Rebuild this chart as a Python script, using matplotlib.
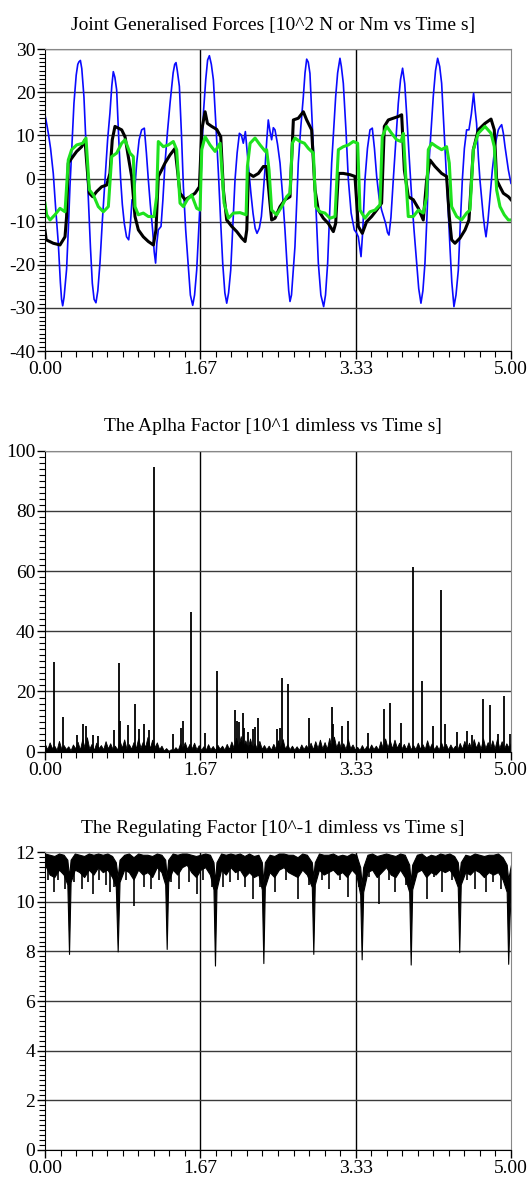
import numpy as np
import matplotlib
matplotlib.use('Agg')
import matplotlib.pyplot as plt
from matplotlib.ticker import MultipleLocator

plt.rcParams['font.family'] = ['Liberation Serif', 'DejaVu Serif']
plt.rcParams['axes.unicode_minus'] = False

# time axis labels
time_ticks = [0, 5 / 3, 10 / 3, 5]
time_labels = ['0.00', '1.67', '3.33', '5.00']

# joint generalised forces
blue_t = [0, 0.02, 0.036, 0.06, 0.089, 0.115, 0.143, 0.165, 0.178, 0.19,
          0.205, 0.22, 0.232, 0.25, 0.268, 0.29, 0.311, 0.335, 0.352, 0.365,
          0.38, 0.395, 0.418, 0.44, 0.465, 0.488, 0.508, 0.527, 0.547, 0.567,
          0.59, 0.615, 0.644, 0.672, 0.697, 0.717, 0.733, 0.75, 0.769, 0.79,
          0.812, 0.83, 0.851, 0.875, 0.898, 0.915, 0.934, 0.955, 0.984, 1.01,
          1.037, 1.066, 1.088, 1.109, 1.13, 1.155, 1.172, 1.187, 1.2, 1.216,
          1.245, 1.265, 1.288, 1.315, 1.342, 1.375, 1.392, 1.406, 1.42, 1.442,
          1.465, 1.485, 1.51, 1.538, 1.56, 1.585, 1.605, 1.628, 1.664, 1.682,
          1.7, 1.725, 1.745, 1.764, 1.785, 1.807, 1.835, 1.861, 1.885, 1.907,
          1.93, 1.95, 1.97, 1.993, 2.015, 2.039, 2.062, 2.086, 2.107, 2.128,
          2.15, 2.17, 2.19, 2.21, 2.232, 2.255, 2.275, 2.3, 2.322, 2.34,
          2.36, 2.38, 2.396, 2.414, 2.432, 2.45, 2.468, 2.495, 2.522, 2.55,
          2.575, 2.6, 2.615, 2.629, 2.645, 2.665, 2.682, 2.7, 2.718, 2.745,
          2.772, 2.79, 2.808, 2.825, 2.843, 2.865, 2.89, 2.91, 2.933, 2.96,
          2.99, 3.01, 3.033, 3.055, 3.076, 3.1, 3.119, 3.14, 3.165, 3.18,
          3.201, 3.23, 3.255, 3.285, 3.319, 3.34, 3.362, 3.378, 3.391, 3.41,
          3.433, 3.46, 3.487, 3.512, 3.535, 3.559, 3.585, 3.612, 3.635, 3.655,
          3.675, 3.691, 3.712, 3.737, 3.765, 3.791, 3.815, 3.837, 3.86, 3.88,
          3.905, 3.934, 3.96, 3.988, 4.01, 4.034, 4.055, 4.077, 4.1, 4.12,
          4.145, 4.166, 4.19, 4.213, 4.235, 4.256, 4.285, 4.309, 4.328, 4.345,
          4.365, 4.388, 4.41, 4.435, 4.455, 4.478, 4.5, 4.524, 4.549, 4.575,
          4.599, 4.615, 4.631, 4.65, 4.667, 4.685, 4.703, 4.718, 4.732, 4.752,
          4.775, 4.8, 4.828, 4.846, 4.864, 4.882, 4.9, 4.918, 4.936, 4.955,
          4.972, 5.0]
blue_v = [14.8, 12.5, 10.5, 7, 1.2, -7, -15, -24, -28, -29.5,
          -27.5, -24, -21, -12, -1.9, 8, 17.5, 24, 26.5, 27.1,
          27.4, 25.5, 19, 8, -4.2, -16, -24.3, -28, -28.8, -26,
          -19.6, -10, -0.3, 9, 15.2, 21.5, 24.8, 23.5, 20.6, 10,
          -0.3, -6, -10.4, -13.5, -14.2, -11, -4.9, -5, 3.6, 9,
          11.3, 11.7, 6, -0.3, -6, -11.9, -17, -19.6, -15, -11.9,
          -11.1, -5, 3.6, 11, 17.5, 24.5, 26.5, 26.9, 25, 21.4,
          10, -1.9, -12, -20.4, -27, -29.4, -27, -21.2, -5.7, 5,
          15.2, 23, 27.5, 28.5, 26.5, 22.9, 12, 1.2, -10, -19.6,
          -26.5, -28.9, -26.5, -21.2, -11, -0.3, 6, 10.5, 10.1, 8.2,
          10.9, 6, 1.2, -3.5, -8, -11.5, -12.7, -11.5, -8.8, -4,
          2, 9, 13.6, 11, 9, 11.8, 11.3, 8, 3.6, -4,
          -11.9, -21, -26, -28.5, -27, -21, -15.8, -6, 3.6, 12,
          19, 24.5, 27.7, 27, 24.4, 14, 2, -8, -19.6, -27,
          -29.7, -27, -19.6, -8, 3.6, 12, 19, 24.5, 27.9, 26,
          22.1, 11, -0.3, -8, -11.9, -12.5, -13.5, -16, -18.1, -12,
          -0.3, 7, 11.3, 11.7, 7, 0.5, -4.5, -7.3, -9, -10.4,
          -12.5, -13.1, -9, -0.3, 9, 17.5, 23, 25.6, 22, 15.2,
          6, -4.2, -12, -19.6, -25.5, -28.9, -26, -19.6, -8, 3.6,
          12, 19, 25, 27.9, 26, 22.1, 10, -0.3, -8, -15.8,
          -24, -29.7, -27, -21.2, -11, -0.3, 7, 11.3, 11.3, 15,
          19.8, 16, 12.8, 5, -0.3, -4.5, -8.8, -11.5, -13.5, -10,
          -4.2, 2, 7.4, 9.5, 11.3, 12, 12.5, 10.5, 7.4, 4.5,
          2, -1.1]

black_t = [0, 0.013, 0.089, 0.161, 0.215, 0.232, 0.25, 0.286, 0.34, 0.394,
           0.429, 0.454, 0.476, 0.512, 0.555, 0.608, 0.662, 0.697, 0.722, 0.751,
           0.787, 0.823, 0.859, 0.894, 0.93, 0.966, 1.002, 1.055, 1.109, 1.163,
           1.191, 1.216, 1.252, 1.288, 1.342, 1.395, 1.413, 1.449, 1.503, 1.556,
           1.61, 1.657, 1.682, 1.718, 1.743, 1.789, 1.843, 1.886, 1.914, 1.95,
           2.004, 2.058, 2.111, 2.147, 2.165, 2.183, 2.236, 2.29, 2.343, 2.378,
           2.414, 2.432, 2.468, 2.522, 2.575, 2.629, 2.665, 2.718, 2.772, 2.808,
           2.861, 2.897, 2.933, 2.987, 3.04, 3.094, 3.119, 3.148, 3.201, 3.273,
           3.326, 3.362, 3.405, 3.451, 3.505, 3.559, 3.612, 3.641, 3.684, 3.737,
           3.791, 3.827, 3.856, 3.898, 3.952, 4.006, 4.059, 4.095, 4.131, 4.185,
           4.256, 4.309, 4.338, 4.363, 4.399, 4.453, 4.507, 4.549, 4.596, 4.649,
           4.721, 4.786, 4.821, 4.846, 4.882, 4.918, 4.972, 5.0]
black_v = [-12, -14.2, -15, -15.4, -13.5, -8.8, 3.6, 4.7, 6.3, 7.4,
           9, 2, -3.4, -4.2, -3, -1.9, -1.5, 1.2, 9, 12.1,
           11.7, 11.3, 9.7, 5.1, 0.5, -8.8, -11.9, -13.5, -14.6, -15.4,
           -11.9, 0.5, 2, 3.6, 5.5, 7, 3.6, -3.4, -4.9, -4.2,
           -3.4, -1.9, 11.3, 15.5, 12.8, 12.1, 11.4, 9.7, -2.6, -9.6,
           -11.1, -12.3, -13.8, -14.6, -11.9, 1.2, 0.5, 1.2, 2.8, 2.8,
           -5.7, -9.6, -9.2, -6.5, -4.9, -4.2, 13.6, 14, 15.5, 13.6,
           11.3, -2.6, -7.3, -9.2, -10.4, -12.3, -10.4, 1.2, 1.2, 0.9,
           0.5, -11.1, -12.7, -10, -8.8, -7.3, -5.7, 12.1, 13.6, 14,
           14.4, 14.8, 2, -4.2, -4.9, -6.9, -9.6, -0.3, 4.3, 2.8,
           1.2, 0.5, -8.8, -14.2, -15, -13.8, -11.9, -9.6, 6.7, 11.3,
           12.8, 13.8, 11.3, -0.3, -1.9, -3.4, -4.2, -4.9]

green_t = [0, 0.018, 0.054, 0.107, 0.161, 0.215, 0.25, 0.286, 0.34, 0.404,
           0.44, 0.476, 0.519, 0.572, 0.626, 0.68, 0.716, 0.769, 0.823, 0.859,
           0.912, 0.948, 0.966, 1.002, 1.055, 1.109, 1.17, 1.198, 1.216, 1.27,
           1.324, 1.377, 1.413, 1.449, 1.485, 1.527, 1.574, 1.628, 1.664, 1.682,
           1.718, 1.771, 1.825, 1.879, 1.922, 1.968, 2.022, 2.093, 2.158, 2.172,
           2.201, 2.254, 2.308, 2.364, 2.378, 2.404, 2.432, 2.486, 2.54, 2.593,
           2.629, 2.654, 2.683, 2.736, 2.783, 2.826, 2.88, 2.905, 2.951, 3.004,
           3.058, 3.112, 3.148, 3.201, 3.255, 3.308, 3.355, 3.38, 3.433, 3.487,
           3.541, 3.594, 3.619, 3.666, 3.719, 3.773, 3.82, 3.845, 3.873, 3.898,
           3.952, 4.006, 4.059, 4.095, 4.113, 4.149, 4.202, 4.256, 4.309, 4.338,
           4.363, 4.417, 4.47, 4.524, 4.56, 4.596, 4.649, 4.721, 4.786, 4.821,
           4.846, 4.882, 4.928, 4.972, 5.0]
green_v = [-5.7, -8.4, -9.6, -8.4, -6.9, -7.7, 4.3, 6.7, 7.8, 8.2,
           9.4, -2.6, -3.8, -6.5, -7.7, -6.5, 5.1, 5.9, 8.2, 9,
           5.9, 5.1, -6.5, -8.4, -8, -8.8, -8.8, -4.2, 8.6, 7.4,
           7.8, 8.6, 6.7, -5.7, -6.5, -4.9, -3.8, -6.9, -7.3, 6.7,
           9.7, 7.8, 6.3, 8.2, -5.7, -9.2, -8, -7.9, -8.4, 2.8,
           8.2, 9.4, 7.8, 6.3, 6.7, 2, -7.3, -8.4, -6.5, -4.2,
           -3.4, 8.2, 9.4, 8.6, 8.2, 7, 5.9, -6.5, -7.7, -8,
           -9.2, -8.8, 6.7, 7.4, 7.8, 8.6, 8.2, -7.3, -9.2, -7.7,
           -7.3, -6.1, 9.7, 12.1, 10.5, 9, 8.6, 10.5, -0.3, -8.8,
           -8.8, -7.3, -8, -4.2, 6.7, 8.2, 7.4, 6.7, 7.4, 3.6,
           -6.5, -8.8, -9.6, -8, -7.3, 6.7, 10.5, 12.1, 10.5, 7.4,
           -2.6, -6.5, -8.4, -9.6, -9.6]

# alpha factor: background level (every 0.025 s) and the tall spikes
alpha_floor = [2.5, 0.8, 3.1, 1.2, 2.0, 0.6, 3.6, 1.0, 2.2, 0.9, 1.8, 0.5, 2.4, 1.1, 3.3, 0.7, 4.2, 1.4, 4.8, 1.0,
               2.6, 0.6, 3.0, 1.2, 2.2, 0.8, 3.5, 1.1, 2.8, 0.9, 2.0, 0.7, 3.8, 1.3, 4.1, 0.9, 2.5, 1.0, 3.2, 1.2,
               4.5, 1.3, 3.4, 1.6, 4.9, 1.1, 4.0, 1.5, 3.1, 0.9, 2.0, 0.4, 1.2, 0.3, 0.8, 0.5, 1.5, 0.6, 2.8, 1.0,
               3.2, 0.9, 2.6, 1.1, 3.0, 0.8, 2.2, 0.6, 1.8, 0.7, 2.5, 0.8, 1.9, 0.6, 2.3, 1.0, 2.0, 0.7, 2.6, 0.9,
               3.4, 1.2, 4.6, 1.6, 5.2, 1.4, 3.8, 1.2, 4.4, 1.3, 2.8, 0.9, 3.6, 1.0, 2.2, 0.8, 2.0, 0.7, 2.6, 0.9,
               3.8, 1.1, 4.2, 1.0, 2.5, 0.8, 2.0, 0.7, 1.8, 0.6, 2.4, 0.9, 2.2, 1.0, 3.0, 0.8, 3.5, 1.2, 4.0, 1.1,
               3.2, 1.0, 4.6, 1.3, 5.0, 1.5, 3.6, 1.1, 2.8, 0.9, 4.2, 1.2, 2.4, 0.8, 1.6, 0.6, 2.2, 0.7, 1.9, 0.8,
               2.4, 0.9, 2.0, 0.7, 3.5, 1.2, 4.4, 1.4, 3.8, 1.1, 4.0, 1.3, 3.0, 1.0, 2.6, 0.9, 3.1, 0.8, 2.2, 0.9,
               3.0, 1.0, 2.5, 0.9, 3.8, 1.2, 2.8, 0.8, 2.2, 0.7, 3.1, 1.1, 2.6, 0.8, 2.4, 0.9, 2.0, 0.7, 2.9, 1.0,
               3.6, 1.1, 3.0, 0.9, 4.2, 1.3, 3.4, 1.0, 4.5, 1.2, 3.2, 1.0, 3.8, 1.1, 4.3, 1.2, 3.5, 1.0, 2.8, 1.4,
               3.0]
spike_t = [0.097, 0.19, 0.34, 0.404, 0.44, 0.51, 0.565, 0.744, 0.797, 0.81,
           0.887, 0.966, 1.005, 1.059, 1.116, 1.17, 1.377, 1.459, 1.48, 1.563,
           1.72, 1.845, 2.042, 2.063, 2.085, 2.121, 2.139, 2.18, 2.235, 2.253,
           2.282, 2.486, 2.521, 2.539, 2.61, 2.836, 3.076, 3.094, 3.183, 3.255,
           3.469, 3.641, 3.702, 3.82, 3.945, 4.045, 4.16, 4.252, 4.292, 4.424,
           4.525, 4.578, 4.703, 4.775, 4.857, 4.925, 4.989]
spike_h = [29.7, 11.4, 5.5, 9.2, 8.5, 5.5, 5.3, 7.2, 29.6, 10.2,
           8.9, 15.7, 7.5, 9.2, 7.2, 94.5, 5.9, 7.8, 10.2, 46.4,
           6.1, 26.8, 13.8, 10.2, 10, 13, 8, 6.4, 7.4, 8.2,
           11.3, 7.5, 7.8, 24.4, 22.5, 11.1, 15, 9.2, 8.6, 10.2,
           6.3, 14.2, 16.1, 9.6, 61.5, 23.5, 8.5, 53.7, 9.1, 6.4,
           6.9, 5.5, 17.4, 15.5, 5.8, 18.5, 5.9]

# regulating factor: band edges, deep dips included
reg_t = [0.0, 0.05, 0.1, 0.15, 0.2, 0.24, 0.258, 0.275, 0.32, 0.37,
         0.42, 0.47, 0.52, 0.57, 0.62, 0.67, 0.72, 0.76, 0.78, 0.8,
         0.85, 0.9, 0.95, 1.0, 1.05, 1.1, 1.15, 1.2, 1.25, 1.29,
         1.306, 1.322, 1.37, 1.42, 1.47, 1.52, 1.57, 1.62, 1.67, 1.72,
         1.77, 1.808, 1.824, 1.84, 1.89, 1.94, 1.99, 2.04, 2.09, 2.14,
         2.19, 2.24, 2.29, 2.327, 2.343, 2.359, 2.41, 2.46, 2.51, 2.56,
         2.61, 2.66, 2.71, 2.76, 2.81, 2.863, 2.879, 2.895, 2.94, 2.99,
         3.04, 3.09, 3.14, 3.19, 3.24, 3.29, 3.34, 3.382, 3.398, 3.414,
         3.46, 3.51, 3.56, 3.61, 3.66, 3.71, 3.76, 3.81, 3.86, 3.908,
         3.924, 3.94, 3.99, 4.04, 4.09, 4.14, 4.19, 4.24, 4.29, 4.34,
         4.39, 4.429, 4.445, 4.461, 4.51, 4.56, 4.61, 4.66, 4.71, 4.76,
         4.81, 4.86, 4.91, 4.954, 4.97, 4.985, 5.0]
reg_low = [11.5, 11.1, 11.0, 11.3, 11.1, 10.7, 7.9, 10.8, 11.3, 11.2,
           11.0, 11.3, 11.1, 11.4, 11.2, 11.3, 11.0, 10.6, 8.0, 10.8,
           11.3, 11.2, 10.9, 11.3, 11.1, 11.2, 11.0, 11.4, 11.2, 10.7,
           8.1, 10.8, 11.3, 11.1, 11.4, 11.5, 11.2, 11.0, 11.3, 11.4,
           11.1, 10.5, 7.43, 10.5, 11.3, 11.1, 11.4, 11.2, 11.3, 11.0,
           11.2, 11.0, 11.1, 10.5, 7.53, 10.6, 11.2, 11.0, 11.3, 11.4,
           11.2, 11.1, 11.0, 11.3, 11.1, 10.6, 7.9, 10.7, 11.3, 11.1,
           11.2, 11.3, 11.1, 11.2, 11.0, 11.3, 11.1, 10.3, 7.68, 10.4,
           11.2, 11.3, 11.0, 11.2, 11.4, 11.1, 11.0, 11.3, 11.0, 10.4,
           7.47, 10.5, 11.2, 11.3, 11.0, 11.2, 11.1, 11.3, 11.2, 11.3,
           11.0, 10.6, 7.97, 10.7, 11.2, 11.1, 11.3, 11.2, 11.0, 11.2,
           11.1, 11.2, 10.9, 10.4, 7.5, 9.4, 10.4]
reg_high = [11.95, 11.9, 11.85, 11.95, 11.9, 11.7, 11.0, 11.7, 11.95, 11.9,
            11.85, 11.95, 11.9, 11.95, 11.9, 11.95, 11.85, 11.6, 11.0, 11.7,
            11.9, 11.95, 11.8, 11.95, 11.9, 11.9, 11.85, 11.95, 11.9, 11.7,
            11.0, 11.7, 11.95, 11.9, 11.95, 11.95, 11.9, 11.85, 11.9, 11.95,
            11.9, 11.6, 10.8, 11.6, 11.95, 11.9, 11.95, 11.9, 11.95, 11.85,
            11.95, 11.85, 11.9, 11.6, 10.8, 11.6, 11.9, 11.85, 11.95, 11.95,
            11.9, 11.9, 11.8, 11.95, 11.9, 11.6, 11.0, 11.6, 11.95, 11.9,
            11.9, 11.95, 11.85, 11.9, 11.85, 11.95, 11.9, 11.4, 10.7, 11.4,
            11.9, 11.95, 11.85, 11.9, 11.95, 11.9, 11.85, 11.95, 11.9, 11.5,
            10.8, 11.5, 11.9, 11.95, 11.8, 11.9, 11.85, 11.95, 11.9, 11.95,
            11.85, 11.6, 11.0, 11.6, 11.9, 11.85, 11.95, 11.9, 11.85, 11.9,
            11.9, 11.95, 11.8, 11.5, 10.9, 11.2, 11.5]
# thin downward flicks below the band
reg_spike_t = [0.035, 0.1, 0.14, 0.21, 0.31, 0.4, 0.46, 0.51, 0.58, 0.66,
               0.7, 0.745, 0.87, 0.955, 1.06, 1.14, 1.22, 1.35, 1.44, 1.55,
               1.635, 1.7, 1.79, 1.91, 1.99, 2.07, 2.15, 2.23, 2.31, 2.47,
               2.59, 2.71, 2.83, 2.97, 3.05, 3.17, 3.25, 3.37, 3.48, 3.58,
               3.69, 3.755, 3.87, 4.095, 4.17, 4.256, 4.37, 4.53, 4.61, 4.73,
               4.81, 4.89]
reg_spike_v = [10.9, 10.4, 10.9, 10.5, 10.8, 10.5, 10.8, 10.3, 10.9, 10.7,
               10.4, 10.6, 10.9, 9.85, 10.6, 10.5, 10.9, 10.8, 10.5, 10.8,
               10.3, 10.9, 10.6, 10.6, 10.8, 10.9, 10.6, 10.1, 10.6, 10.4,
               10.9, 10.1, 10.7, 10.9, 10.5, 10.9, 10.2, 10.6, 11.0, 9.9,
               10.9, 10.4, 10.7, 10.1, 11.0, 10.4, 10.9, 10.9, 10.5, 10.4,
               10.8, 10.5]

fig = plt.figure(figsize=(5.31, 11.78), dpi=100)
ax1 = fig.add_axes([0.0847, 0.7020, 0.8776, 0.2562])
ax2 = fig.add_axes([0.0847, 0.3619, 0.8776, 0.2555])
ax3 = fig.add_axes([0.0847, 0.0240, 0.8776, 0.2525])


def style_axis(ax, title, lo, hi, major, minor):
    ax.set_xlim(0, 5)
    ax.set_ylim(lo, hi)
    ax.set_title(title, fontsize=14, pad=14, x=0.489)
    ax.set_xticks(time_ticks)
    ax.set_xticklabels(time_labels)
    ax.xaxis.set_minor_locator(MultipleLocator(5 / 30))
    ax.yaxis.set_major_locator(MultipleLocator(major))
    ax.yaxis.set_minor_locator(MultipleLocator(minor))
    ax.tick_params(which='major', length=6, width=1, labelsize=14, pad=1)
    ax.tick_params(which='minor', length=4, width=0.8)
    ax.tick_params(axis='x', pad=1.5)
    ax.set_axisbelow(True)
    ax.grid(axis='y', color='#3a3a3a', lw=1)
    ax.grid(axis='x', color='black', lw=1)
    xg = ax.get_xgridlines()
    xg[0].set_visible(False)
    xg[-1].set_visible(False)
    for s in ['top', 'right']:
        ax.spines[s].set_color('#888888')


ax1.plot(blue_t, blue_v, color='#0a0aff', lw=1.2)
ax1.plot(black_t, black_v, color='black', lw=2.2)
ax1.plot(green_t, green_v, color='#1ee21e', lw=2.2)
style_axis(ax1, 'Joint Generalised Forces [10^2 N or Nm vs Time s]', -40, 30, 10, 1)

floor_t = np.linspace(0, 5, len(alpha_floor))
ax2.fill_between(floor_t, 0, alpha_floor, color='black', lw=0.6)
ax2.vlines(spike_t, 0, spike_h, color='black', lw=1.3)
style_axis(ax2, 'The Aplha Factor [10^1 dimless vs Time s]', 0, 100, 20, 2)

ax3.fill_between(reg_t, reg_low, reg_high, color='black', lw=0.8)
ax3.vlines(reg_spike_t, reg_spike_v, 11.4, color='black', lw=1.2)
style_axis(ax3, 'The Regulating Factor [10^-1 dimless vs Time s]', 0, 12, 2, 0.2)

fig.savefig('out.png', dpi=100)
